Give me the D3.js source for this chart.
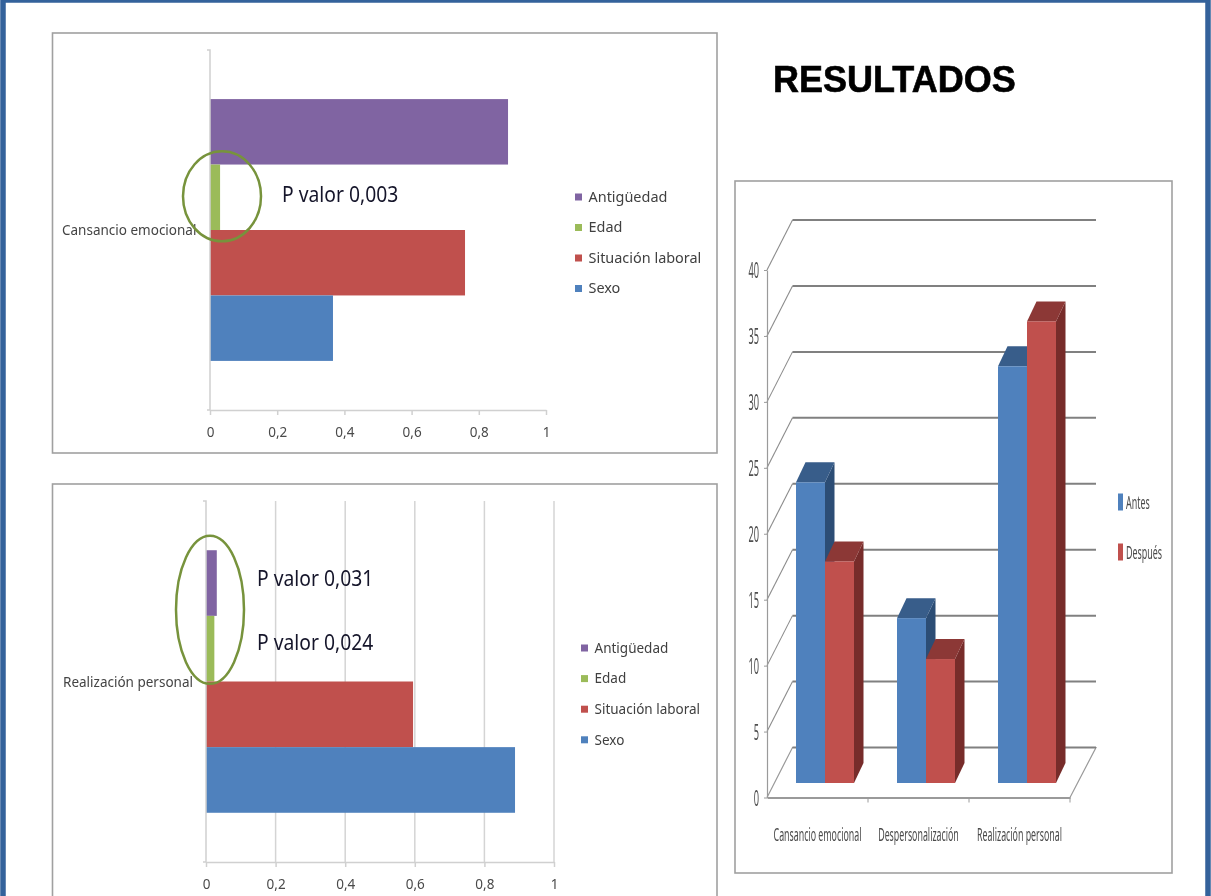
<!DOCTYPE html>
<html>
<head>
<meta charset="utf-8">
<script src="https://cdn.jsdelivr.net/npm/d3@7"></script>
<style>
    html, body { margin: 0; padding: 0; background: #fff; overflow: hidden; }
    svg { display: block; filter: blur(0.55px); font-family: "Noto Sans", sans-serif; }
    svg .tick text { font-family: "Noto Sans", sans-serif; }
</style>
</head>
<body>
<div id="chart"></div>
<script>
const series = ["Antigüedad", "Edad", "Situación laboral", "Sexo"];
const cansancioValues = [0.887, 0.03, 0.759, 0.366];
const realizacionValues = [0.031, 0.024, 0.595, 0.888];
const barTicks = [0, 0.2, 0.4, 0.6, 0.8, 1];
const seriesColors = ["#8064a2", "#9bbb59", "#c0504d", "#4f81bd"];

const categories3d = ["Cansancio emocional", "Despersonalización", "Realización personal"];
const series3d = ["Antes", "Después"];
const antesValues = [22.8, 12.5, 31.6];
const despuesValues = [16.8, 9.4, 35.0];
const ticks3d = [0, 5, 10, 15, 20, 25, 30, 35, 40];

const svg = d3.select("#chart").append("svg")
    .attr("width", 1211)
    .attr("height", 896);

svg.append("rect").attr("width", 1211).attr("height", 896).attr("fill", "#fff");

// page border
svg.append("path")
    .attr("d", "M3,900V0H1208V900")
    .attr("fill", "none")
    .attr("stroke", "#34629b")
    .attr("stroke-width", 5.5);

const commaFormat = d => String(d).replace(".", ",");

// narrow a text horizontally around its own x, the source picture was stretched
function squeeze(sel, factor) {
    sel.each(function () {
        const tx = +this.getAttribute("x") || 0;
        d3.select(this).attr("transform", `translate(${tx},0) scale(${factor},1) translate(${-tx},0)`);
    });
}

function drawBarChart(o) {
    const g = svg.append("g");

    g.append("rect")
        .attr("x", o.box[0]).attr("y", o.box[1])
        .attr("width", o.box[2] - o.box[0]).attr("height", o.box[3] - o.box[1])
        .attr("fill", "#fff")
        .attr("stroke", "#a0a0a0")
        .attr("stroke-width", 1.6);

    const x = d3.scaleLinear().domain([0, 1]).range(o.xRange);
    const y = d3.scaleBand().domain(series).range(o.yRange).paddingInner(0).paddingOuter(0.75);

    if (o.grid) {
        g.append("g").selectAll("line")
            .data(barTicks.slice(1))
            .enter()
            .append("line")
            .attr("x1", d => x(d)).attr("x2", d => x(d))
            .attr("y1", o.yRange[0]).attr("y2", o.yRange[1])
            .attr("stroke", "#d4d4d4")
            .attr("stroke-width", 1.5);
    }

    g.selectAll(".bar")
        .data(o.values)
        .enter()
        .append("rect")
        .attr("x", x(0))
        .attr("y", (d, i) => y(series[i]))
        .attr("width", d => x(d) - x(0))
        .attr("height", y.bandwidth())
        .attr("fill", (d, i) => seriesColors[i]);

    const xAxis = g.append("g")
        .attr("transform", `translate(0,${o.yRange[1]})`)
        .call(d3.axisBottom(x).tickValues(barTicks).tickFormat(commaFormat).tickSize(5).tickSizeOuter(0));
    xAxis.select(".domain").attr("stroke", "#d0d0d0").attr("stroke-width", 1.5);
    xAxis.selectAll(".tick line").attr("stroke", "#d0d0d0").attr("stroke-width", 1.5);
    xAxis.selectAll("text")
        .attr("y", 17)
        .style("font-size", "13.5px")
        .style("fill", "#4a4a4a");

    // vertical axis with its two small end ticks
    g.append("path")
        .attr("d", `M${x(0) - 3},${o.yRange[0]}H${x(0)}V${o.yRange[1]}H${x(0) - 3}`)
        .attr("fill", "none")
        .attr("stroke", "#d0d0d0")
        .attr("stroke-width", 1.5);

    g.append("text")
        .attr("x", o.catLabel[0]).attr("y", o.catLabel[1])
        .attr("dy", ".35em")
        .style("font-size", "13.5px")
        .style("fill", "#444")
        .text(o.category);

    const legend = g.append("g").selectAll("g")
        .data(series)
        .enter()
        .append("g")
        .attr("transform", (d, i) => `translate(${o.legend[0]},${o.legend[1] + i * o.legend[2]})`);
    legend.append("rect")
        .attr("y", -3.5).attr("width", 7).attr("height", 7)
        .attr("fill", (d, i) => seriesColors[i]);
    legend.append("text")
        .attr("x", 13.5).attr("dy", ".35em")
        .style("font-size", "13.5px")
        .style("fill", "#404040")
        .text(d => d)
        .call(squeeze, o.legendSqueeze);

    return { g, x, y };
}

const cansancioChart = drawBarChart({
    box: [52.5, 33, 717, 453],
    xRange: [210, 546],
    yRange: [50, 410],
    values: cansancioValues,
    category: "Cansancio emocional",
    catLabel: [62, 230],
    legend: [575, 197, 30.5],
    legendSqueeze: 1.07,
    grid: false
});

const realizacionChart = drawBarChart({
    box: [52.5, 484, 717, 920],
    xRange: [206, 554],
    yRange: [501, 862],
    values: realizacionValues,
    category: "Realización personal",
    catLabel: [63, 682],
    legend: [581, 648, 30.6],
    legendSqueeze: 1.0,
    grid: true
});

// circled bars and their p values
function pLabel(g, px, py, text) {
    g.append("text")
        .attr("x", px).attr("y", py)
        .attr("dy", ".35em")
        .style("font-size", "21px")
        .style("fill", "#15152a")
        .text(text)
        .call(squeeze, 0.92);
}

cansancioChart.g.append("ellipse")
    .attr("cx", cansancioChart.x(0) + 12)
    .attr("cy", cansancioChart.y("Edad") + cansancioChart.y.bandwidth() / 2 - 1)
    .attr("rx", 39).attr("ry", 45)
    .attr("fill", "none").attr("stroke", "#77933c").attr("stroke-width", 2.5);
pLabel(cansancioChart.g, 282, 195, "P valor 0,003");

realizacionChart.g.append("ellipse")
    .attr("cx", realizacionChart.x(0) + 4)
    .attr("cy", realizacionChart.y("Edad") - 6)
    .attr("rx", 34).attr("ry", 74)
    .attr("fill", "none").attr("stroke", "#77933c").attr("stroke-width", 2.5);
pLabel(realizacionChart.g, 257, 579, "P valor 0,031");
pLabel(realizacionChart.g, 257, 643, "P valor 0,024");

// title
svg.append("text")
    .attr("x", 773).attr("y", 92)
    .style("font-family", "'Liberation Sans', sans-serif")
    .style("font-size", "36px")
    .style("font-weight", "bold")
    .style("fill", "#000")
    .style("stroke", "#000")
    .style("stroke-width", 0.6)
    .text("RESULTADOS");

// 3D column chart
const g3 = svg.append("g");
const depth = { x: 25.5, y: -50 };
const barDepth = { x: 9.5, y: -20 };

g3.append("rect")
    .attr("x", 735).attr("y", 181)
    .attr("width", 437).attr("height", 692)
    .attr("fill", "#fff")
    .attr("stroke", "#a0a0a0")
    .attr("stroke-width", 1.6);

const y3 = d3.scaleLinear().domain([0, 40]).range([797.5, 270]);
const x3 = d3.scaleBand().domain(categories3d).range([767, 1070]);
const xSeries = d3.scaleBand().domain(series3d).range([-29, 29]);
const barBase = y3(0) - 14.5;
const barShift = 7.5;

// floor
const floorLeft = x3.range()[0], floorRight = x3.range()[1];
g3.append("path")
    .attr("d", `M${floorLeft},${y3(0)}L${floorLeft + depth.x},${y3(0) + depth.y}H${floorRight + depth.x + 0.5}L${floorRight},${y3(0)}`)
    .attr("fill", "none")
    .attr("stroke", "#9a9a9a")
    .attr("stroke-width", 1.2);

// gridlines along the wall
g3.append("g").selectAll("path")
    .data(ticks3d.slice(1))
    .enter()
    .append("path")
    .attr("d", d => `M${floorLeft},${y3(d)}L${floorLeft + depth.x},${y3(d) + depth.y}`)
    .attr("fill", "none")
    .attr("stroke", "#8c8c8c")
    .attr("stroke-width", 1.1);
g3.append("g").selectAll("line")
    .data(ticks3d)
    .enter()
    .append("line")
    .attr("x1", floorLeft + depth.x)
    .attr("x2", floorRight + depth.x + 0.5)
    .attr("y1", d => y3(d) + depth.y)
    .attr("y2", d => y3(d) + depth.y)
    .attr("stroke", "#808080")
    .attr("stroke-width", 2);

// front axes
const yAxis3 = g3.append("g")
    .attr("transform", `translate(${floorLeft},0)`)
    .call(d3.axisLeft(y3).tickValues(ticks3d).tickSize(3).tickSizeOuter(0));
yAxis3.select(".domain").attr("stroke", "#9a9a9a").attr("stroke-width", 1.2);
yAxis3.selectAll(".tick line").attr("stroke", "#9a9a9a");
yAxis3.selectAll("text")
    .attr("x", -8)
    .attr("dy", ".38em")
    .style("font-size", "21px")
    .style("fill", "#505050")
    .call(squeeze, 0.44);

const xAxis3 = g3.append("g")
    .attr("transform", `translate(0,${y3(0)})`)
    .call(d3.axisBottom(x3).tickSize(0).tickSizeOuter(0));
xAxis3.select(".domain").attr("stroke", "#9a9a9a").attr("stroke-width", 2);
xAxis3.selectAll(".tick text")
    .attr("y", 37)
    .attr("dy", ".35em")
    .style("font-size", "19px")
    .style("fill", "#4a4a4a")
    .call(squeeze, 0.465);

g3.append("g").selectAll("line")
    .data(categories3d)
    .enter()
    .append("line")
    .attr("x1", d => x3(d) + x3.step())
    .attr("x2", d => x3(d) + x3.step())
    .attr("y1", y3(0))
    .attr("y2", y3(0) + 5)
    .attr("stroke", "#9a9a9a");

const colors3d = {
    "Antes": { front: "#4f81bd", top: "#385d8a", side: "#2c4d75" },
    "Después": { front: "#c0504d", top: "#8c3836", side: "#772c2a" }
};

const bars3d = [];
categories3d.forEach((c, i) => {
    bars3d.push({ category: c, name: "Antes", value: antesValues[i] });
    bars3d.push({ category: c, name: "Después", value: despuesValues[i] });
});

const barGroups = g3.append("g").selectAll("g")
    .data(bars3d)
    .enter()
    .append("g");

const barLeft = d => x3(d.category) + x3.bandwidth() / 2 + barShift + xSeries(d.name);
const barTop = d => y3(d.value) - (y3(0) - barBase);

barGroups.append("path")
    .attr("d", d => {
        const r = barLeft(d) + xSeries.bandwidth();
        return `M${r},${barBase}V${barTop(d)}l${barDepth.x},${barDepth.y}V${barBase + barDepth.y}Z`;
    })
    .attr("fill", d => colors3d[d.name].side);
barGroups.append("path")
    .attr("d", d => {
        const w = xSeries.bandwidth();
        return `M${barLeft(d)},${barTop(d)}h${w}l${barDepth.x},${barDepth.y}h${-w}Z`;
    })
    .attr("fill", d => colors3d[d.name].top);
barGroups.append("rect")
    .attr("x", barLeft)
    .attr("y", barTop)
    .attr("width", xSeries.bandwidth())
    .attr("height", d => barBase - barTop(d))
    .attr("fill", d => colors3d[d.name].front);

const legend3 = g3.append("g").selectAll("g")
    .data(series3d)
    .enter()
    .append("g")
    .attr("transform", (d, i) => `translate(1118,${502 + i * 50})`);
legend3.append("rect")
    .attr("y", -8.5).attr("width", 5).attr("height", 17)
    .attr("fill", d => colors3d[d].front);
legend3.append("text")
    .attr("x", 8).attr("dy", ".35em")
    .style("font-size", "19px")
    .style("fill", "#4a4a4a")
    .text(d => d)
    .call(squeeze, 0.47);
</script>
</body>
</html>
